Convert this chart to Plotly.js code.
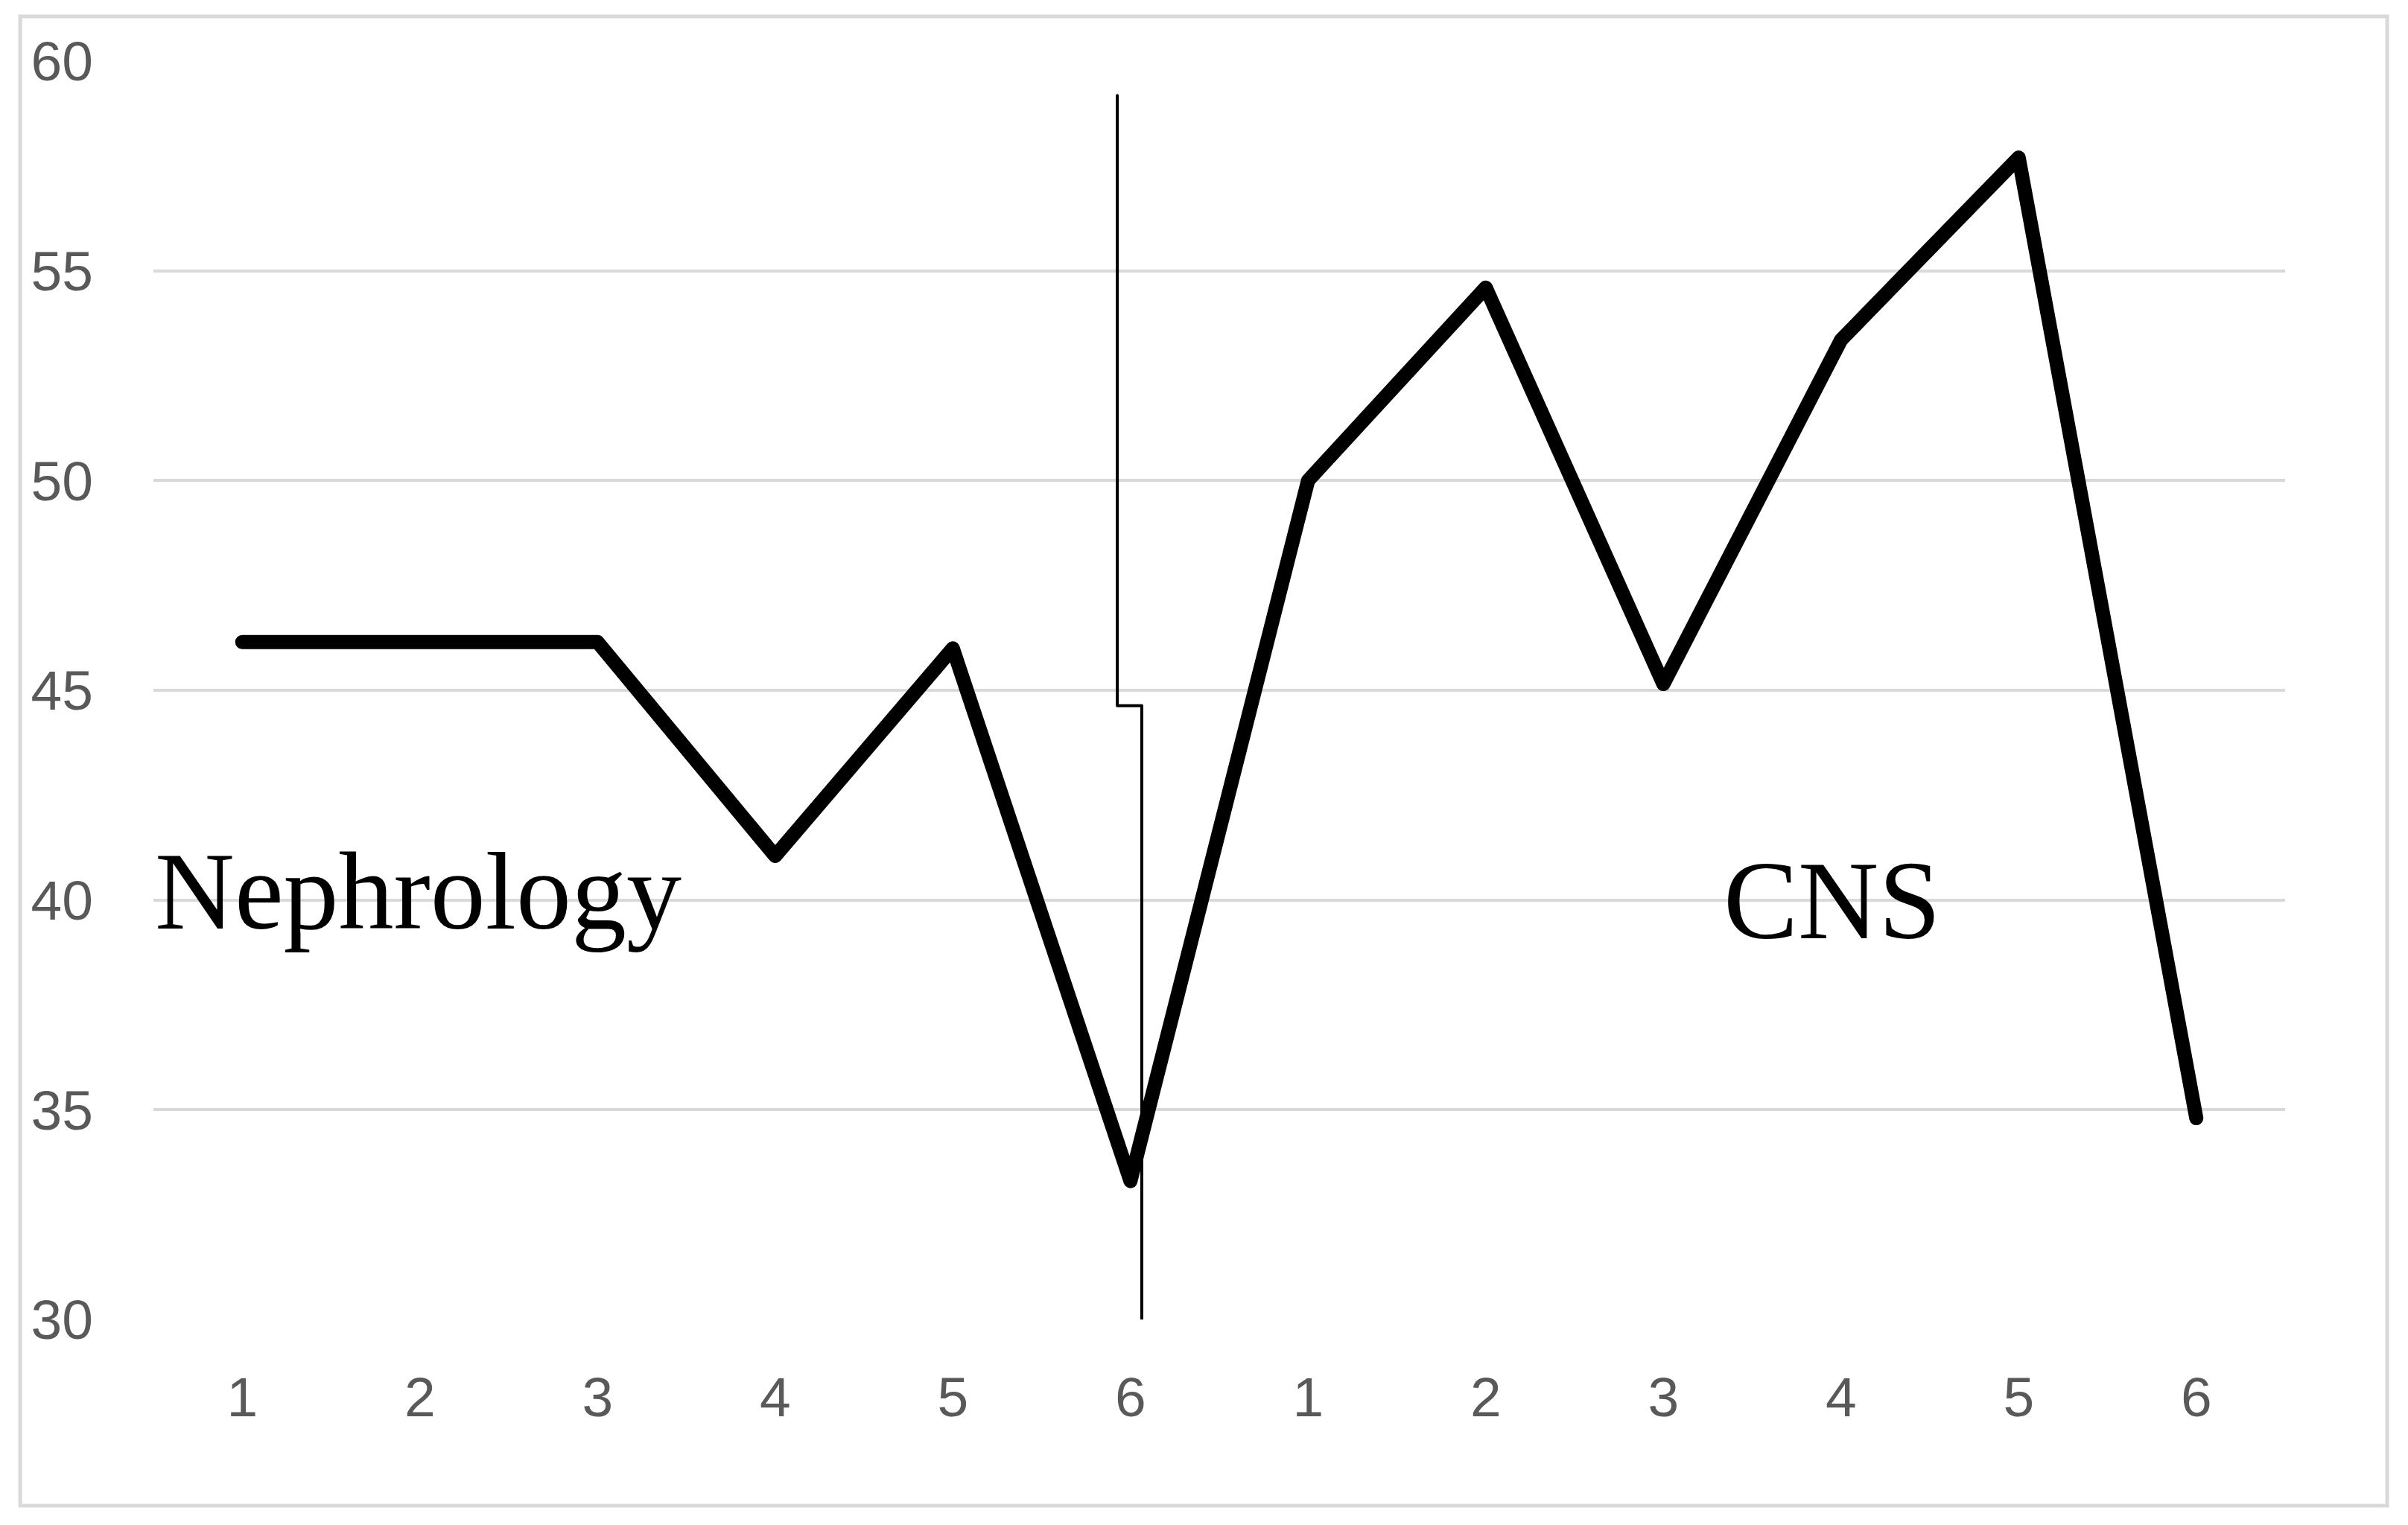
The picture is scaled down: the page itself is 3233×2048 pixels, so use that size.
<!DOCTYPE html>
<html>
<head>
<meta charset="utf-8">
<script src="https://cdn.plot.ly/plotly-3.0.1.min.js"></script>
<style>
html, body { margin: 0; padding: 0; background: #ffffff; }
#chart { width: 3233px; height: 2048px; }
#chart .scatterlayer path.js-line { stroke-linejoin: round !important; stroke-linecap: round !important; }
</style>
</head>
<body>
<div id="chart"></div>
<script>
// ---- data ----
const groupNames = ['Nephrology', 'CNS'];
const categories = ['1', '2', '3', '4', '5', '6'];
const nephrologyValues = [46.15, 46.15, 46.15, 41.05, 46.0, 33.3];
const cnsValues = [50.0, 54.6, 45.15, 53.35, 57.7, 34.8];
const yTicks = [30, 35, 40, 45, 50, 55, 60];
// divider between the two groups (category-index units / value units)
const dividerX = [4.926, 4.926, 5.064, 5.064];
const dividerY = [59.18, 44.63, 44.63, 30];

// ---- build ----
const tickLabels = categories.concat(categories);
const allValues = nephrologyValues.concat(cnsValues);
const xIdx = tickLabels.map((_, i) => i);

const traces = [
  {
    x: xIdx, y: allValues, type: 'scatter', mode: 'lines',
    line: { color: '#000000', width: 19 },
    hoverinfo: 'skip', showlegend: false
  },
  {
    x: dividerX, y: dividerY, type: 'scatter', mode: 'lines',
    line: { color: '#000000', width: 4 },
    hoverinfo: 'skip', showlegend: false
  }
];

const layout = {
  width: 3233, height: 2048,
  paper_bgcolor: '#ffffff', plot_bgcolor: '#ffffff',
  margin: { l: 206, r: 165, t: 82, b: 276, pad: 0 },
  showlegend: false,
  font: { family: 'Liberation Sans, Arial, sans-serif', size: 75, color: '#595959' },
  xaxis: {
    range: [-0.5, 11.5],
    tickvals: xIdx, ticktext: tickLabels,
    showgrid: false, zeroline: false, showline: false,
    ticks: '', ticklabelstandoff: 54,
    tickfont: { family: 'Liberation Sans, Arial, sans-serif', size: 75, color: '#595959' },
    fixedrange: true
  },
  yaxis: {
    range: [30, 60],
    tickvals: yTicks, ticktext: yTicks.map(String),
    showgrid: true, gridcolor: '#d9d9d9', gridwidth: 4,
    zeroline: false, showline: false,
    ticks: '', ticklabelstandoff: 80,
    tickfont: { family: 'Liberation Sans, Arial, sans-serif', size: 75, color: '#595959' },
    fixedrange: true
  },
  annotations: [
    {
      text: groupNames[0], xref: 'x', yref: 'y', x: -0.5, y: 40.2,
      xanchor: 'left', yanchor: 'middle', showarrow: false,
      font: { family: 'Liberation Serif, Times New Roman, serif', size: 148, color: '#000000' }
    },
    {
      text: groupNames[1], xref: 'x', yref: 'y', x: 8.95, y: 40.0,
      xanchor: 'center', yanchor: 'middle', showarrow: false,
      font: { family: 'Liberation Serif, Times New Roman, serif', size: 150, color: '#000000' }
    }
  ],
  shapes: [
    {
      type: 'rect', xref: 'paper', yref: 'paper',
      x0: -0.0625, x1: 1.0479, y0: -0.1479, y1: 1.0355,
      line: { color: '#d9d9d9', width: 5 }, fillcolor: 'rgba(0,0,0,0)', layer: 'below'
    }
  ]
};

Plotly.newPlot('chart', traces, layout, { displayModeBar: false, staticPlot: true });
</script>
</body>
</html>
